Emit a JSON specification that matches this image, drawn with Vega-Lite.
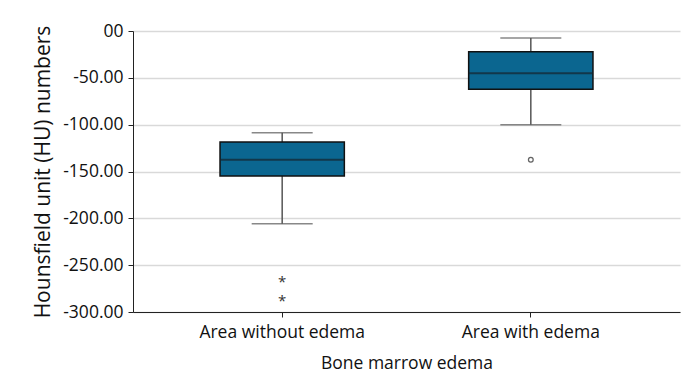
{
  "$schema": "https://vega.github.io/schema/vega-lite/v6.json",
  "width": 547,
  "height": 281,
  "padding": {"left": 32, "top": 22, "right": 14, "bottom": 5},
  "background": "white",
  "config": {
    "view": {"stroke": null},
    "font": "Open Sans",
    "axis": {"labelFont": "Open Sans", "titleFont": "Open Sans", "labelColor": "#111", "titleColor": "#111", "titleFontWeight": "normal"}
  },
  "datasets": {
    "boxes": [
      {"group": "Area without edema", "lw": -205.7, "q1": -154.8, "med": -137.4, "q3": -118.5, "uw": -108.6},
      {"group": "Area with edema", "lw": -100.0, "q1": -62.3, "med": -45.2, "q3": -22.1, "uw": -7.5}
    ],
    "extremes": [
      {"group": "Area without edema", "value": -266.0},
      {"group": "Area without edema", "value": -286.5}
    ],
    "outliers": [
      {"group": "Area with edema", "value": -137.4}
    ]
  },
  "encoding": {
    "x": {
      "field": "group", "type": "nominal",
      "sort": ["Area without edema", "Area with edema"],
      "scale": {"paddingInner": 0, "paddingOuter": 0.1},
      "axis": {
        "title": "Bone marrow edema", "labelAngle": 0, "labelFontSize": 17.5, "titleFontSize": 17.5,
        "domainColor": "#222", "tickColor": "#222", "tickSize": 5, "labelPadding": 6, "titlePadding": 14, "grid": false
      }
    }
  },
  "layer": [
    {
      "data": {"name": "boxes"},
      "mark": {"type": "rule", "color": "#555", "strokeWidth": 1.5},
      "encoding": {
        "y": {
          "field": "lw", "type": "quantitative",
          "scale": {"domain": [-300, 0], "nice": false, "zero": false},
          "axis": {
            "title": "Hounsfield unit (HU) numbers", "titleFontSize": 21, "labelFontSize": 17.5,
            "values": [-300, -250, -200, -150, -100, -50, 0],
            "labelExpr": "datum.value == 0 ? '00' : datum.value + '.00'",
            "grid": true, "gridColor": "#d9d9d9", "gridWidth": 1.5,
            "domainColor": "#222", "tickColor": "#222", "tickSize": 5, "labelPadding": 5, "titlePadding": 9
          }
        },
        "y2": {"field": "uw"}
      }
    },
    {
      "data": {"name": "boxes"},
      "mark": {"type": "tick", "orient": "horizontal", "color": "#555", "size": 61, "thickness": 1.5},
      "encoding": {"y": {"field": "lw", "type": "quantitative"}}
    },
    {
      "data": {"name": "boxes"},
      "mark": {"type": "tick", "orient": "horizontal", "color": "#555", "size": 61, "thickness": 1.5},
      "encoding": {"y": {"field": "uw", "type": "quantitative"}}
    },
    {
      "data": {"name": "boxes"},
      "mark": {"type": "bar", "fill": "#0b6690", "stroke": "#111", "strokeWidth": 1.5, "width": {"band": 0.5}},
      "encoding": {"y": {"field": "q1", "type": "quantitative"}, "y2": {"field": "q3"}}
    },
    {
      "data": {"name": "boxes"},
      "mark": {"type": "tick", "orient": "horizontal", "color": "#15232c", "size": 124, "thickness": 2},
      "encoding": {"y": {"field": "med", "type": "quantitative"}}
    },
    {
      "data": {"name": "extremes"},
      "mark": {"type": "text", "text": "*", "fontSize": 15, "color": "#333", "baseline": "middle", "dy": 2},
      "encoding": {"y": {"field": "value", "type": "quantitative"}}
    },
    {
      "data": {"name": "outliers"},
      "mark": {"type": "point", "shape": "circle", "filled": false, "stroke": "#222", "strokeWidth": 1.3, "size": 22},
      "encoding": {"y": {"field": "value", "type": "quantitative"}}
    }
  ]
}
